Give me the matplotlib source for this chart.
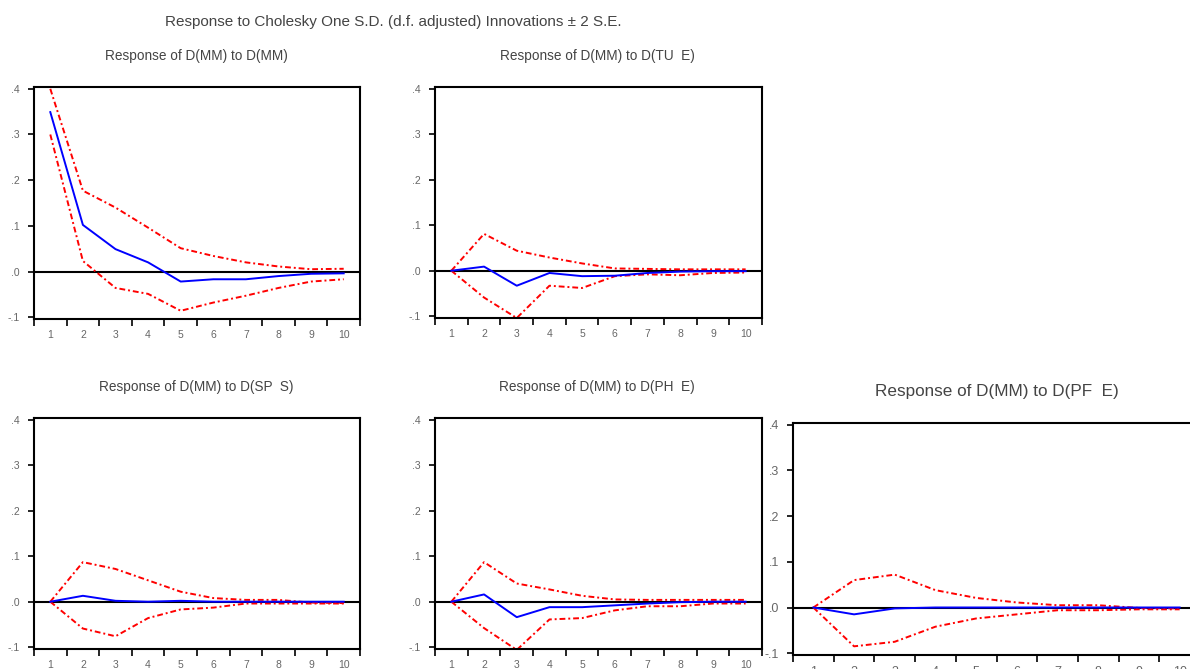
import numpy as np
import matplotlib
matplotlib.use("Agg")
import matplotlib.pyplot as plt

plt.rcParams['font.family'] = ['Liberation Sans', 'DejaVu Sans']

# periods
periods = list(range(1, 11))

# impulse responses and +/- 2 S.E. bands
mm_resp = [0.349, 0.102, 0.049, 0.020, -0.022, -0.017, -0.017, -0.010, -0.005, -0.004]
mm_up = [0.400, 0.177, 0.140, 0.096, 0.051, 0.034, 0.020, 0.011, 0.005, 0.006]
mm_lo = [0.300, 0.023, -0.036, -0.049, -0.086, -0.068, -0.053, -0.036, -0.022, -0.017]

tue_resp = [0.0, 0.009, -0.033, -0.005, -0.012, -0.011, -0.005, -0.002, -0.001, -0.001]
tue_up = [0.0, 0.081, 0.044, 0.029, 0.016, 0.005, 0.004, 0.003, 0.003, 0.003]
tue_lo = [0.0, -0.059, -0.104, -0.033, -0.038, -0.012, -0.008, -0.010, -0.005, -0.004]

sps_resp = [0.0, 0.013, 0.002, 0.0, 0.002, 0.0, 0.0, 0.0, 0.0, 0.0]
sps_up = [0.0, 0.087, 0.072, 0.047, 0.022, 0.008, 0.004, 0.004, -0.002, -0.003]
sps_lo = [0.0, -0.059, -0.076, -0.036, -0.017, -0.013, -0.004, -0.004, -0.004, -0.004]

phe_resp = [0.0, 0.016, -0.034, -0.012, -0.012, -0.008, -0.004, -0.001, 0.0, 0.0]
phe_up = [0.0, 0.087, 0.040, 0.027, 0.013, 0.005, 0.004, 0.004, 0.004, 0.004]
phe_lo = [0.0, -0.058, -0.106, -0.039, -0.036, -0.019, -0.010, -0.010, -0.004, -0.004]

pfe_resp = [0.0, -0.015, -0.002, 0.0, 0.0, 0.0, 0.0, 0.0, 0.0, 0.0]
pfe_up = [0.0, 0.060, 0.072, 0.038, 0.021, 0.011, 0.005, 0.005, -0.001, -0.002]
pfe_lo = [0.0, -0.085, -0.075, -0.042, -0.024, -0.015, -0.006, -0.006, -0.004, -0.004]

titles = ["Response of D(MM) to D(MM)", "Response of D(MM) to D(TU  E)",
          "Response of D(MM) to D(SP  S)", "Response of D(MM) to D(PH  E)",
          "Response of D(MM) to D(PF  E)"]
ytick_vals = [-0.1, 0.0, 0.1, 0.2, 0.3, 0.4]
ytick_text = ["-.1", ".0", ".1", ".2", ".3", ".4"]

W, H = 1190, 669
fig = plt.figure(figsize=(W / 100, H / 100), dpi=100)


def px_axes(left, top, right, bottom):
    return fig.add_axes([left / W, 1 - bottom / H, (right - left) / W, (bottom - top) / H])


def draw_panel(ax, resp, up, lo, fsize):
    ax.axhline(0, color='black', lw=1.5, zorder=1)
    ax.plot(periods, up, color='red', lw=1.4, ls=(0, (3, 1.5, 1, 1.5)), zorder=2)
    ax.plot(periods, lo, color='red', lw=1.4, ls=(0, (3, 1.5, 1, 1.5)), zorder=2)
    ax.plot(periods, resp, color='blue', lw=1.4, zorder=3)
    ax.set_xlim(0.5, 10.5)
    ax.set_ylim(-0.104, 0.404)
    ax.set_yticks(ytick_vals, labels=ytick_text)
    ax.set_xticks(np.arange(0.5, 11), labels=[])
    ax.set_xticks(periods, labels=[str(p) for p in periods], minor=True)
    ax.tick_params(which='major', direction='out', length=5, width=1.2, color='black',
                   labelsize=fsize, labelcolor='#666666', pad=6)
    ax.tick_params(which='minor', length=0, labelsize=fsize, labelcolor='#666666', pad=8)
    ax.tick_params(axis='y', length=4, pad=6)
    for s in ax.spines.values():
        s.set_linewidth(1.5)


boxes = [(34, 87, 360, 319), (435, 87, 762, 318), (34, 418, 360, 649),
         (435, 418, 762, 649), (793, 423, 1200, 655)]
data = [(mm_resp, mm_up, mm_lo), (tue_resp, tue_up, tue_lo), (sps_resp, sps_up, sps_lo),
        (phe_resp, phe_up, phe_lo), (pfe_resp, pfe_up, pfe_lo)]
title_pos = [(196, 56), (597, 56), (196, 387), (597, 387), (997, 392)]

for i in range(5):
    ax = px_axes(*boxes[i])
    fs = 7.5 if i < 4 else 9
    draw_panel(ax, *data[i], fs)
    tfs = 9.8 if i < 4 else 12.3
    fig.text(title_pos[i][0] / W, 1 - title_pos[i][1] / H, titles[i], ha='center', va='center',
             fontsize=tfs, color='#444444')

fig.text(393 / W, 1 - 22 / H, "Response to Cholesky One S.D. (d.f. adjusted) Innovations \u00b1 2 S.E.",
         ha='center', va='center', fontsize=11, color='#444444')

fig.savefig("out.png", dpi=100)
